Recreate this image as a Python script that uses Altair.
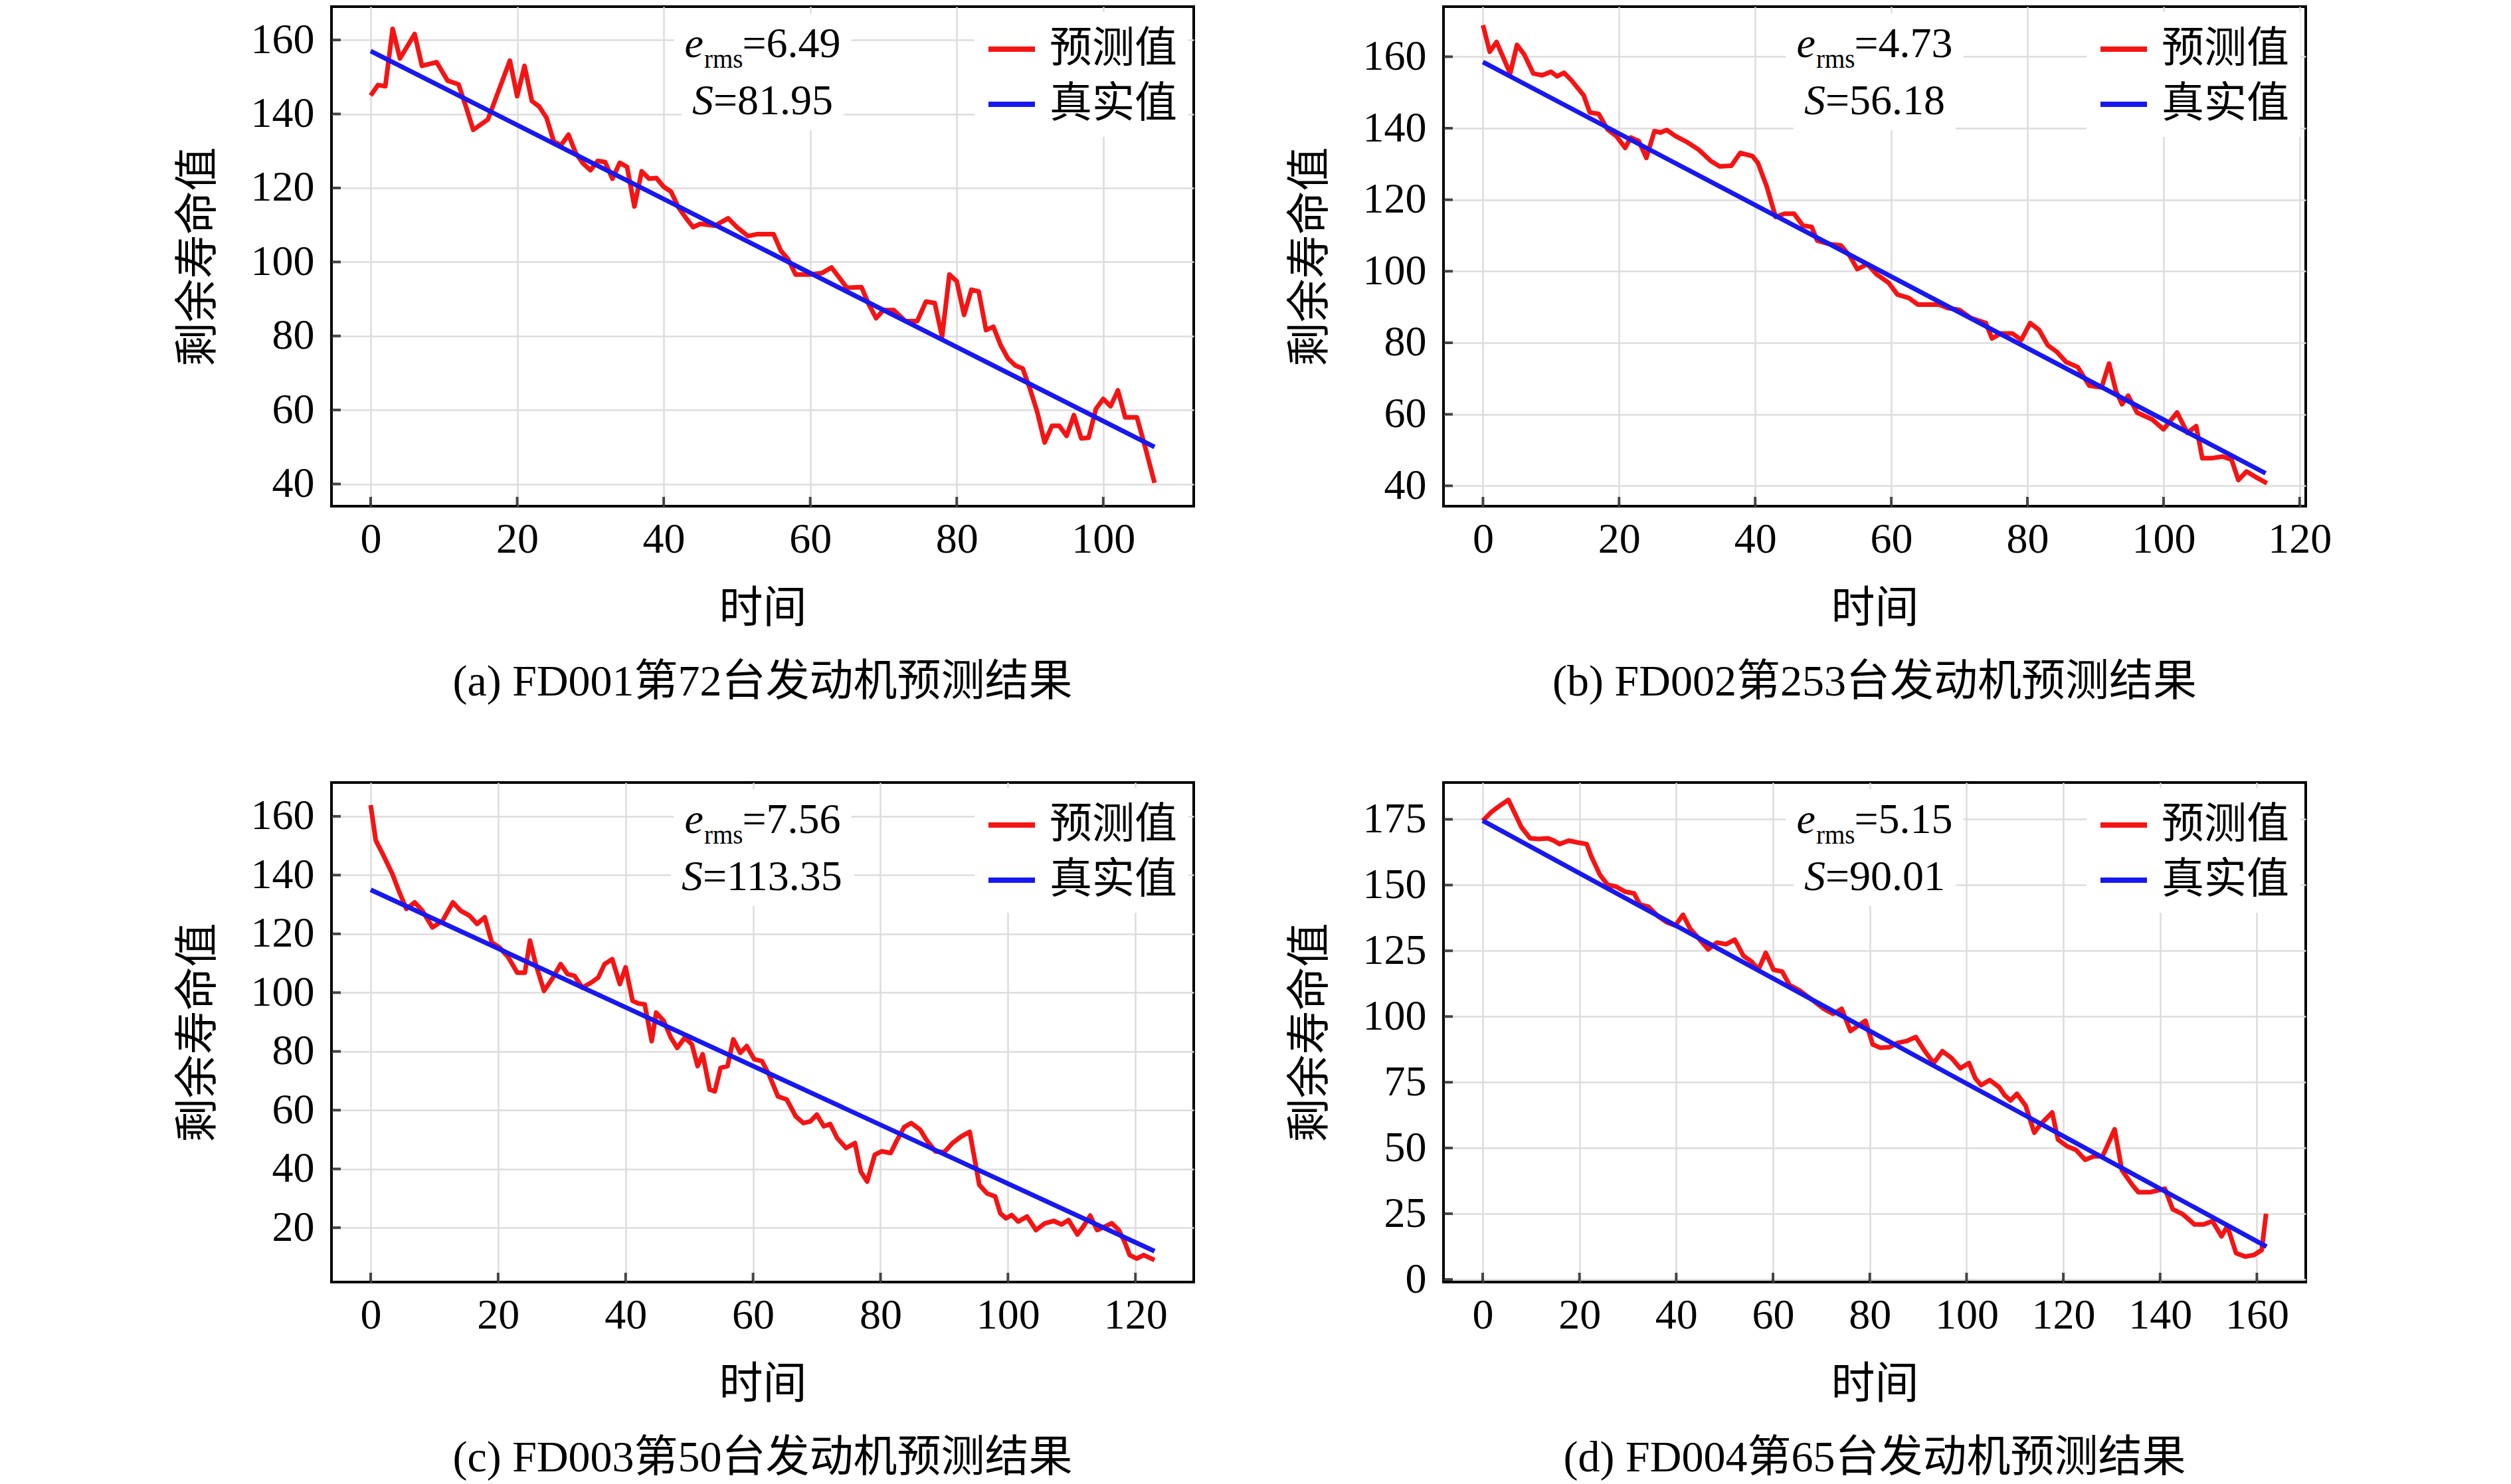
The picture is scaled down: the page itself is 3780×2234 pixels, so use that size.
import altair as alt
import pandas as pd

FONT = "Liberation Serif, Noto Sans CJK SC"
RED = "#f51414"
BLUE = "#1818f0"
W, H = 1298, 752

# (a) FD001 engine 72
a_x = [0, 1, 2, 3, 4, 6, 7, 9, 10.5, 12, 13, 14, 16, 19, 20, 21, 22, 23, 24, 25, 26, 27, 28, 29, 30,
       31, 32, 33, 34, 35, 36, 37, 38, 39, 40, 41, 42, 43, 44, 45, 47, 48.8, 50, 51.5, 52.7, 55, 56, 57,
       58, 60, 61.6, 62.9, 64, 65, 67, 68, 69, 70, 71.4, 73, 74.6, 75.8, 77, 78, 79, 80, 81, 82, 83, 84,
       85, 86, 87, 88, 89, 90, 91, 92, 93, 94, 95, 96, 97, 98, 99, 100, 101, 102, 103, 104.6, 105.8, 107]
a_y = [145, 147.8, 147.5, 163, 155, 161.6, 153, 154, 149, 148, 142, 135.7, 138.5, 154.4, 144.8, 153,
       143.5, 142, 139, 132.5, 131.6, 134.4, 129.4, 126.6, 124.8, 127.3, 127, 122.5, 126.8, 125.7, 115,
       124.5, 122.5, 122.7, 120.3, 119, 114.8, 112, 109.4, 110.3, 109.8, 111.8, 109.4, 107, 107.5, 107.5,
       103, 100.7, 96.6, 96.6, 97, 98.5, 95.7, 93, 93.2, 88.5, 84.8, 87, 87, 84, 84, 89.3, 88.9, 79.8,
       96.6, 94.8, 85.7, 92.5, 92, 81.6, 82.5, 77.5, 73.9, 72, 71.2, 65.7, 59.4, 51.2, 55.7, 55.7, 53,
       58.6, 52.3, 52.5, 60.3, 63, 61, 65.3, 58, 58, 49.4, 40.3]
a_true_x = [0, 107]
a_true_y = [157, 50]

# (b) FD002 engine 253
b_x = [0, 1, 2, 4, 5, 6.1, 7.4, 8.7, 10, 10.9, 11.9, 13, 14.8, 15.7, 17, 18.3, 19.6, 20.9, 21.7, 22.9,
       24, 25.2, 26.1, 27, 28.3, 30, 31.7, 33.5, 34.8, 36.5, 37.8, 39.6, 40.4, 41.7, 43, 44.3, 45.7, 47,
       48.3, 49.1, 50.9, 52.6, 53.9, 55, 56.5, 57.8, 59.6, 60.9, 62.6, 63.9, 67, 68.3, 70, 71.7, 73.9,
       74.8, 76.1, 77.8, 79.1, 80.4, 81.7, 83, 84.3, 85.7, 87.4, 89.1, 90.9, 92, 93, 93.9, 94.8, 96.1,
       98.3, 100, 102, 103.5, 104.8, 105.7, 107, 108.7, 110, 111, 112.2, 113.5, 115.2]
b_y = [168.8, 161.4, 164.1, 155.3, 163.3, 160.5, 155.3, 154.8, 155.8, 154.5, 155.5, 153.4, 149.2, 144.4,
       144, 139.7, 137.8, 134.5, 137.4, 136.4, 131.7, 139.2, 138.8, 139.5, 137.8, 136.1, 134, 130.8,
       129.3, 129.5, 133.1, 132.2, 130.3, 123.7, 115.2, 116.1, 116.1, 112.8, 112.4, 108.6, 107.6, 107.2,
       104.3, 100.6, 102, 99.2, 96.8, 93.5, 92.5, 90.7, 90.7, 89.7, 89.2, 86.9, 85.5, 81.2, 82.6, 82.6,
       80.8, 85.5, 83.6, 79.3, 77.5, 74.6, 73.2, 68, 67.5, 74.2, 66.6, 62.8, 65.2, 60.5, 58.6, 55.8,
       60.5, 54.8, 56.7, 47.7, 47.7, 48.2, 47.3, 41.6, 44, 42.5, 40.7]
b_true_x = [0, 115]
b_true_y = [158.5, 43.5]

# (c) FD003 engine 50
c_x = [0, 0.8, 2, 3.4, 4.4, 5.6, 6.9, 8.1, 9.7, 11.3, 12.9, 14.1, 15.5, 16.7, 17.9, 19, 20.2, 21.6, 23,
       24.2, 25, 25.9, 27.2, 28.6, 29.8, 30.9, 32, 33.2, 34.6, 35.7, 36.7, 37.9, 39.1, 40, 41.1, 42, 43,
       44.1, 44.8, 46, 47.1, 48.1, 49.3, 50.4, 51.3, 52.1, 53.2, 54, 54.9, 56, 56.9, 58, 59, 60.2, 61.4,
       62.5, 63.9, 65.3, 66.7, 67.9, 69, 70, 71.1, 72.1, 73.2, 74.6, 76, 76.9, 77.9, 79.1, 80.2, 81.6,
       82.5, 83.7, 84.8, 86.2, 87.2, 88.6, 90, 91.3, 92.7, 94, 95.5, 96.7, 98, 98.8, 99.7, 100.6, 101.6,
       103, 104.4, 105.8, 107.2, 108.4, 109.5, 110.9, 111.8, 112.9, 114, 115.1, 116.3, 117.4, 118.3,
       119.1, 120.2, 121.3, 123]
c_y = [163.8, 151.8, 146.7, 140.4, 134.7, 128.5, 130.7, 127.9, 122.2, 124.5, 130.7, 127.9, 126.2, 123.4,
       125.6, 117.1, 115.4, 112, 106.8, 106.8, 117.7, 109.7, 100.6, 105.1, 109.7, 106.3, 105.7, 101.7,
       103.4, 105.1, 109.7, 111.4, 102.9, 108.6, 97.2, 96.3, 96, 83.5, 93.2, 90.3, 84.7, 81.2, 84.7, 82.4,
       75, 79, 67, 66.4, 74.4, 75, 84.1, 79.5, 81.8, 77.3, 76.7, 72.1, 64.7, 63.6, 57.9, 55.6, 56.2, 58.5,
       54.5, 55.3, 50.5, 47.1, 48.8, 39.1, 35.7, 44.8, 46, 45.4, 49.4, 54.2, 55.6, 53.4, 49.9, 46, 45.7,
       48.8, 51.1, 52.6, 34.6, 31.7, 30.6, 24.9, 23.2, 24.3, 22.1, 23.8, 19.2, 21.5, 22.3, 21.1, 22.6,
       17.7, 20.3, 24.1, 19.2, 20.3, 21.5, 19.2, 15.2, 10.7, 9.5, 10.7, 9]
c_true_x = [0, 123]
c_true_y = [135, 12]

# (d) FD004 engine 65
d_x = [0, 1.8, 3.7, 5.3, 6.5, 8, 9.8, 11.6, 13.5, 14.7, 15.9, 17.8, 19.6, 21.5, 22.4, 24.2, 25.8, 27.6,
       29.4, 31.3, 32.5, 34.3, 36.2, 38, 39.8, 41.4, 42.9, 44.8, 46.6, 48.4, 50.3, 52.1, 53.9, 55.5, 57,
       58.5, 60.1, 61.9, 63.4, 65.4, 66.8, 68.7, 70.5, 72.4, 74.2, 76, 77.6, 79.1, 80.6, 82.2, 84, 85.8,
       87.7, 89.5, 91.4, 93.2, 95, 96.9, 98.7, 100.5, 101.8, 103, 104.8, 106.7, 107.9, 109.1, 110.4,
       112.2, 114, 115.3, 117.7, 118.9, 120.8, 122.6, 124.5, 126.3, 128.1, 130.6, 132.1, 134.3, 135.5,
       138, 141, 142.6, 144.7, 147.1, 149, 150.8, 152.7, 153.9, 155.7, 157.6, 159.4, 161, 161.9]
d_y = [174.4, 177.8, 180.4, 182.4, 177.8, 172, 167.8, 167.5, 167.8, 166.9, 165.6, 166.9, 166.2, 165.6,
       161.1, 154, 150.1, 149.4, 147.5, 146.8, 142.6, 141.7, 138.2, 135.9, 134.6, 138.7, 133.3, 129.4,
       125.5, 128.1, 127.5, 129.2, 123, 121, 117.8, 124.2, 117.8, 117.1, 112, 110, 108.1, 105.5, 102.9,
       101, 102.9, 94.5, 96.5, 98.4, 89.4, 88.1, 88.3, 90, 90.7, 92.2, 86.8, 82.3, 86.8, 84.2, 80.3, 82.3,
       76.5, 73.9, 75.8, 73.2, 70, 68.1, 70.6, 66.1, 55.8, 59, 63.5, 53.2, 50.6, 49.3, 45.5, 46.8, 46.8,
       57.1, 41.6, 35.8, 33.2, 33.2, 34.5, 26.7, 24.8, 20.9, 20.9, 22.2, 16.4, 20.3, 10, 8.7, 9.3, 11.2, 25]
d_true_x = [0, 162]
d_true_y = [174.5, 12.5]

captions = ["(a) FD001第72台发动机预测结果", "(b) FD002第253台发动机预测结果",
            "(c) FD003第50台发动机预测结果", "(d) FD004第65台发动机预测结果"]
erms = ["6.49", "4.73", "7.56", "5.15"]
scores = ["81.95", "56.18", "113.35", "90.01"]
x_domains = [[-5.35, 112.35], [-5.8, 120.9], [-6.15, 129.15], [-8.1, 170.1]]
y_domains = [[34, 169], [34.3, 174], [1.5, 171.5], [-1, 189]]
x_ticks = [[0, 20, 40, 60, 80, 100], [0, 20, 40, 60, 80, 100, 120],
           [0, 20, 40, 60, 80, 100, 120], [0, 20, 40, 60, 80, 100, 120, 140, 160]]
y_ticks = [[40, 60, 80, 100, 120, 140, 160], [40, 60, 80, 100, 120, 140, 160],
           [20, 40, 60, 80, 100, 120, 140, 160], [0, 25, 50, 75, 100, 125, 150, 175]]

pred_x = [a_x, b_x, c_x, d_x]
pred_y = [a_y, b_y, c_y, d_y]
true_x = [a_true_x, b_true_x, c_true_x, d_true_x]
true_y = [a_true_y, b_true_y, c_true_y, d_true_y]

FS = 64      # annotation font size
FS_SUB = 39  # subscript size
CHARW = {"=": 0.564, ".": 0.25}


def tw(s, size):
    # rough Times width
    return sum(CHARW.get(ch, 0.5) for ch in s) * size


def one(row):
    pred = pd.DataFrame({"t": pred_x[row], "v": pred_y[row], "series": "预测值"})
    true = pd.DataFrame({"t": true_x[row], "v": true_y[row], "series": "真实值"})
    xs = alt.Scale(domain=x_domains[row], nice=False, zero=False)
    ys = alt.Scale(domain=y_domains[row], nice=False, zero=False)
    xax = alt.Axis(values=x_ticks[row], title="时间", labelPadding=18, titlePadding=40)
    yax = alt.Axis(values=y_ticks[row], title="剩余寿命值", labelPadding=26, titlePadding=45)
    X = alt.X("t:Q", scale=xs, axis=xax)
    Y = alt.Y("v:Q", scale=ys, axis=yax)
    color = alt.Color(
        "series:N",
        scale=alt.Scale(domain=["预测值", "真实值"], range=[RED, BLUE]),
        legend=alt.Legend(title=None, orient="top-right", offset=8, fillColor="white",
                          padding=17, symbolType="stroke", symbolSize=4900, symbolStrokeWidth=8,
                          labelFont=FONT, labelFontSize=64, labelLimit=0, rowPadding=12,
                          labelOffset=18),
    )

    one_row = pd.DataFrame({"k": [0]})
    cx = W / 2
    w1 = 0.444 * FS + 1.5 * FS_SUB + tw("=" + erms[row], FS)
    s1 = cx - w1 / 2
    w2 = 0.5 * FS + tw("=" + scores[row], FS)
    s2 = cx - w2 / 2

    base = alt.Chart(one_row)
    boxes = [
        base.mark_rect(color="white").encode(
            x=alt.value(s1 - 16), x2=alt.value(s1 + w1 + 16), y=alt.value(10), y2=alt.value(112)),
        base.mark_rect(color="white").encode(
            x=alt.value(s2 - 16), x2=alt.value(s2 + w2 + 16), y=alt.value(112), y2=alt.value(186)),
    ]
    txt = dict(font="Liberation Serif", fontSize=FS, align="left", baseline="alphabetic", color="black")
    texts = [
        base.mark_text(fontStyle="italic", **txt).encode(
            x=alt.value(s1), y=alt.value(76), text=alt.value("e")),
        base.mark_text(**{**txt, "fontSize": FS_SUB}).encode(
            x=alt.value(s1 + 0.444 * FS + 1), y=alt.value(92), text=alt.value("rms")),
        base.mark_text(**txt).encode(
            x=alt.value(s1 + 0.444 * FS + 1.5 * FS_SUB), y=alt.value(76), text=alt.value("=" + erms[row])),
        base.mark_text(fontStyle="italic", **txt).encode(
            x=alt.value(s2), y=alt.value(162), text=alt.value("S")),
        base.mark_text(**txt).encode(
            x=alt.value(s2 + 0.5 * FS), y=alt.value(162), text=alt.value("=" + scores[row])),
    ]

    red = alt.Chart(pred).mark_line(strokeWidth=7, strokeJoin="round").encode(x=X, y=Y, color=color)
    blue = alt.Chart(true).mark_line(strokeWidth=7).encode(x=X, y=Y, color=color)

    # inward ticks
    xt = alt.Chart(pd.DataFrame({"t": x_ticks[row]})).mark_tick(
        color="black", thickness=4, size=28, clip=True).encode(x=X, y=alt.value(H))
    yt = alt.Chart(pd.DataFrame({"v": y_ticks[row]})).mark_tick(
        color="black", thickness=4, size=28, clip=True).encode(y=Y, x=alt.value(0))

    return alt.layer(*boxes, red, blue, xt, yt, *texts).properties(
        width=W, height=H,
        title=alt.Title(captions[row], orient="bottom", offset=46, frame="group",
                        anchor="middle", font=FONT, fontSize=66, fontWeight="normal"),
    )


top = alt.hconcat(one(0), one(1), spacing=138).resolve_scale(color="independent")
bottom = alt.hconcat(one(2), one(3), spacing=138).resolve_scale(color="independent")

chart = alt.vconcat(top, bottom, spacing=114).resolve_scale(color="independent").properties(
    padding={"left": 255, "top": 0, "right": 5, "bottom": 5}
).configure_view(
    stroke="black", strokeWidth=4
).configure_axis(
    domain=False, ticks=False, grid=True, gridColor="#dcdcdc", gridWidth=2.5,
    labelFont=FONT, labelFontSize=64, labelColor="black",
    titleFont=FONT, titleFontSize=66, titleFontWeight="normal", titleColor="black",
)

chart.save("out.html", embed_options={"renderer": "svg", "actions": False})
